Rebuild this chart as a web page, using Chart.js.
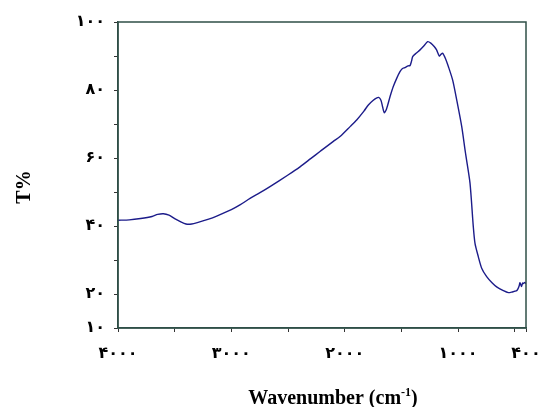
<!DOCTYPE html>
<html><head><meta charset="utf-8">
<script src="https://cdn.jsdelivr.net/npm/chart.js@4.4.1/dist/chart.umd.min.js"></script>
<style>html,body{margin:0;padding:0;background:#fff}canvas{display:block}</style>
</head><body><canvas id="c" width="544" height="407"></canvas>
<script>
const wavenumbers=[4000,3900,3800,3700,3650,3600,3550,3500,3450,3400,3350,3300,3200,3129,3000,2924,2835,2747,2659,2500,2394,2300,2218,2100,2041,1950,1894,1830,1791,1750,1720,1700,1680,1665,1650,1630,1600,1571,1540,1512,1490,1468,1440,1423,1410,1400,1370,1335,1300,1268,1240,1210,1189,1165,1150,1135,1110,1085,1047,1011,967,938,929,894,865,850,821,791,747,700,659,600,556,520,500,482,470,460,453,440,430,424,410,400];
const transmittance=[41.7,41.8,42.2,42.8,43.4,43.6,43.2,42.2,41.3,40.6,40.6,41.0,42.0,42.9,44.8,46.2,48.1,49.8,51.6,55.0,57.4,59.8,61.9,64.9,66.3,69.3,71.2,73.8,75.6,76.9,77.6,77.8,77.0,75.0,73.3,74.5,78.0,81.0,83.5,85.4,86.3,86.6,87.1,87.2,88.5,89.8,90.8,91.8,93.0,94.2,93.8,92.8,91.8,90.0,90.5,90.8,89.2,86.9,82.9,77.0,69.2,62.4,60.4,52.6,39.8,34.9,31.0,27.6,25.1,23.3,22.1,21.0,20.4,20.6,20.8,21.0,21.6,22.4,23.3,22.2,23.2,23.1,23.4,23.0];
const xTickValues=[4000,3500,3000,2500,2000,1500,1000,500,400];
const xTickLabels={4000:'۴۰۰۰',3000:'۳۰۰۰',2000:'۲۰۰۰',1000:'۱۰۰۰',400:'۴۰۰'};
const yTickValues=[10,20,30,40,50,60,70,80,90,100];
const yTickLabels={100:'۱۰۰',80:'۸۰',60:'۶۰',40:'۴۰',20:'۲۰',10:'۱۰'};
const xTitleMain='Wavenumber (cm', xTitleSup='-1', xTitleEnd=')';
const yTitle='T%';

const points=wavenumbers.map((w,i)=>({x:w,y:transmittance[i]}));
const axisColor='#2f4f47';
const tickFont={family:'DejaVu Sans',size:16,weight:'bold'};

const frame={id:'frame',afterDraw(chart){
  const {ctx,chartArea:a}=chart;
  ctx.save();
  ctx.strokeStyle=axisColor;ctx.lineWidth=1.5;
  ctx.strokeRect(a.left,a.top,a.right-a.left,a.bottom-a.top);
  ctx.fillStyle='#000';
  const big='bold 20px "Liberation Serif"', small='bold 12px "Liberation Serif"';
  ctx.font=big;const w1=ctx.measureText(xTitleMain).width;const w3=ctx.measureText(xTitleEnd).width;
  ctx.font=small;const w2=ctx.measureText(xTitleSup).width;
  const total=w1+w2+w3;let x=333-total/2;const yb=404;
  ctx.textBaseline='alphabetic';ctx.textAlign='left';
  ctx.font=big;ctx.fillText(xTitleMain,x,yb);x+=w1;
  ctx.font=small;ctx.fillText(xTitleSup,x,yb-8);x+=w2;
  ctx.font=big;ctx.fillText(xTitleEnd,x,yb);
  ctx.translate(25,187);ctx.rotate(-Math.PI/2);
  ctx.font='bold 20px "Liberation Serif"';ctx.textAlign='center';ctx.textBaseline='middle';
  ctx.fillText(yTitle,0,0);
  ctx.restore();
}};

new Chart(document.getElementById('c'),{
  type:'scatter',
  data:{datasets:[{data:points,showLine:true,borderColor:'#1c1c8a',borderWidth:1.4,pointRadius:0,tension:0.25,fill:false}]},
  options:{
    responsive:false,animation:false,
    layout:{padding:{top:22,right:18,left:0,bottom:0}},
    plugins:{legend:{display:false},tooltip:{enabled:false}},
    scales:{
      x:{type:'linear',reverse:true,min:400,max:4000,
        afterBuildTicks(s){s.ticks=xTickValues.map(v=>({value:v}));},
        afterFit(s){s.height=79;s.paddingLeft=0;s.paddingRight=0;},
        ticks:{autoSkip:false,maxRotation:0,color:'#000',font:tickFont,padding:12,callback:v=>xTickLabels[v]||''},
        grid:{drawOnChartArea:false,tickLength:4,color:'#333'},
        border:{display:true,color:axisColor,width:1.5}},
      y:{type:'linear',min:10,max:100,
        afterBuildTicks(s){s.ticks=yTickValues.map(v=>({value:v}));},
        afterFit(s){s.width=118;s.paddingTop=0;s.paddingBottom=0;},
        ticks:{autoSkip:false,color:'#000',font:tickFont,padding:9,callback:v=>yTickLabels[v]||''},
        grid:{drawOnChartArea:false,tickLength:4,color:'#333'},
        border:{display:true,color:axisColor,width:1.5}}
    }
  },
  plugins:[frame]
});
</script></body></html>
